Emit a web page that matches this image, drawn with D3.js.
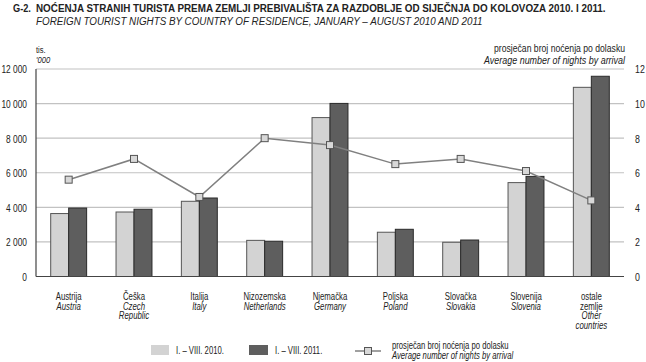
<!DOCTYPE html>
<html><head><meta charset="utf-8">
<script src="https://cdn.jsdelivr.net/npm/d3@7/dist/d3.min.js"></script>
<style>
body{margin:0;background:#fff;}
svg{display:block;}
text{font-family:"Liberation Sans",Arial,sans-serif;fill:#222;}
</style></head>
<body>
<svg id="c" width="646" height="362"></svg>
<script>
const categoriesHr = ["Austrija","Češka","Italija","Nizozemska","Njemačka","Poljska","Slovačka","Slovenija","ostale\nzemlje"];
const categoriesEn = ["Austria","Czech\nRepublic","Italy","Netherlands","Germany","Poland","Slovakia","Slovenia","Other\ncountries"];
const nights2010 = [3640, 3730, 4350, 2090, 9190, 2560, 1980, 5430, 10940];
const nights2011 = [3960, 3890, 4540, 2040, 10010, 2730, 2110, 5790, 11580];
const avgNights = [5.6, 6.8, 4.6, 8.0, 7.6, 6.5, 6.8, 6.1, 4.4];
const leftTicks = [0, 2000, 4000, 6000, 8000, 10000, 12000];
const rightTicks = [0, 2, 4, 6, 8, 10, 12];
const seriesNames = ["I. – VIII. 2010.", "I. – VIII. 2011."];
const lineNameHr = "prosječan broj noćenja po dolasku";
const lineNameEn = "Average number of nights by arrival";

const svg = d3.select("#c");
const m = {l:36, r:624, t:69, b:276.5};
const idx = d3.range(categoriesHr.length);
const x = d3.scaleBand().domain(idx).range([m.l, m.r]).paddingInner(0.45).paddingOuter(0.225);
const xc = d3.scaleBand().domain(idx).range([m.l, m.r]);
const y = d3.scaleLinear().domain([0, 12000]).range([m.b, m.t]);
const y2 = d3.scaleLinear().domain([0, 12]).range([m.b, m.t]);
const fmt = d => d3.format(",")(d).replace(/,/g, " ");

// horizontally condense a text around its anchor using a transform
function squeeze(node, f){
  const x0 = +node.getAttribute("x") || 0, y0 = +node.getAttribute("y") || 0;
  node.setAttribute("x", 0); node.setAttribute("y", 0);
  node.setAttribute("transform", `translate(${x0},${y0}) scale(${f.toFixed(4)},1)`);
}
function condense(sel, f){ sel.each(function(){ squeeze(this, f); }); return sel; }
function fitTo(sel, w){ sel.each(function(){ squeeze(this, w/this.getComputedTextLength()); }); return sel; }

// title
condense(svg.append("text").attr("x",13).attr("y",12).attr("font-size",11.5).attr("font-weight","bold").text("G-2."),0.8);
fitTo(svg.append("text").attr("x",36).attr("y",12).attr("font-size",11.5).attr("font-weight","bold")
  .text("NOĆENJA STRANIH TURISTA PREMA ZEMLJI PREBIVALIŠTA ZA RAZDOBLJE OD SIJEČNJA DO KOLOVOZA 2010. I 2011."),570);
fitTo(svg.append("text").attr("x",36).attr("y",24.5).attr("font-size",11.5).attr("font-style","italic")
  .text("FOREIGN TOURIST NIGHTS BY COUNTRY OF RESIDENCE, JANUARY – AUGUST 2010 AND 2011"),447);

// units
condense(svg.append("text").attr("x",36).attr("y",52.5).attr("font-size",9.5).text("tis."),0.8);
condense(svg.append("text").attr("x",36).attr("y",62.5).attr("font-size",9.5).attr("font-style","italic").text("'000"),0.8);
fitTo(svg.append("text").attr("x",625).attr("y",52).attr("font-size",10.5).attr("text-anchor","end").text(lineNameHr),131);
fitTo(svg.append("text").attr("x",625).attr("y",64).attr("font-size",10.5).attr("text-anchor","end").attr("font-style","italic").text(lineNameEn),141);

// grid
svg.append("g").selectAll("line").data(leftTicks.filter(d=>d>0)).join("line")
  .attr("x1",m.l).attr("x2",m.r).attr("y1",d=>y(d)).attr("y2",d=>y(d))
  .attr("stroke","#c2c2c2").attr("stroke-width",1.2);

// axes
const la = svg.append("g").attr("transform",`translate(${m.l},0)`)
  .call(d3.axisLeft(y).tickValues(leftTicks).tickFormat(fmt).tickSize(0).tickPadding(9));
la.select(".domain").remove();
la.selectAll("text").attr("font-size",11).attr("dy",null).attr("dominant-baseline","central");
condense(la.selectAll("text"),0.76);
const ra = svg.append("g").attr("transform",`translate(${m.r},0)`)
  .call(d3.axisRight(y2).tickValues(rightTicks).tickSize(0).tickPadding(11));
ra.select(".domain").remove();
ra.selectAll("text").attr("font-size",11).attr("dy",null).attr("dominant-baseline","central");
condense(ra.selectAll("text"),0.8);

// bars
const bw = x.bandwidth()/2;
svg.append("g").selectAll("rect").data(idx).join("rect")
  .attr("x",i=>x(i)).attr("width",bw).attr("y",i=>y(nights2010[i])).attr("height",i=>m.b-y(nights2010[i]))
  .attr("fill","#d3d3d3").attr("stroke","#555").attr("stroke-width",1);
svg.append("g").selectAll("rect").data(idx).join("rect")
  .attr("x",i=>x(i)+bw).attr("width",bw).attr("y",i=>y(nights2011[i])).attr("height",i=>m.b-y(nights2011[i]))
  .attr("fill","#5e5e5e").attr("stroke","#2a2a2a").attr("stroke-width",1);

svg.append("line").attr("x1",m.l).attr("x2",m.l).attr("y1",m.t).attr("y2",m.b).attr("stroke","#444").attr("stroke-width",1.2);
svg.append("line").attr("x1",m.l).attr("x2",m.r).attr("y1",m.b).attr("y2",m.b).attr("stroke","#444").attr("stroke-width",1.2);

// line
const cx = i => xc(i) + xc.bandwidth()/2;
svg.append("path").datum(idx)
  .attr("d", d3.line().x(cx).y(i=>y2(avgNights[i])))
  .attr("fill","none").attr("stroke","#808080").attr("stroke-width",1.5);
svg.append("g").selectAll("rect").data(idx).join("rect")
  .attr("x",i=>cx(i)-3.5).attr("y",i=>y2(avgNights[i])-3.5).attr("width",7).attr("height",7)
  .attr("fill","#d8d8d8").attr("stroke","#555").attr("stroke-width",1);

// category labels
const lab = svg.append("g");
idx.forEach(i=>{
  const lines = categoriesHr[i].split("\n").map(t=>({t,it:false}))
    .concat(categoriesEn[i].split("\n").map(t=>({t,it:true})));
  lines.forEach((l,k)=>{
    lab.append("text").attr("x",cx(i)).attr("y",300+k*9.6).attr("text-anchor","middle")
      .attr("font-size",10).attr("font-style",l.it?"italic":"normal").text(l.t);
  });
});
condense(lab.selectAll("text"),0.78);

// legend
const lg = svg.append("g");
lg.append("rect").attr("x",151).attr("y",345).attr("width",18).attr("height",10).attr("fill","#d3d3d3");
lg.append("text").attr("x",176).attr("y",354).attr("font-size",10).text(seriesNames[0]);
lg.append("rect").attr("x",249).attr("y",345).attr("width",19).attr("height",10).attr("fill","#5e5e5e");
lg.append("text").attr("x",275).attr("y",354).attr("font-size",10).text(seriesNames[1]);
lg.append("line").attr("x1",355).attr("x2",381).attr("y1",351).attr("y2",351).attr("stroke","#808080").attr("stroke-width",1.5);
lg.append("rect").attr("x",364.5).attr("y",347.5).attr("width",7).attr("height",7).attr("fill","#d8d8d8").attr("stroke","#555");
lg.append("text").attr("x",392).attr("y",348.5).attr("font-size",10).text(lineNameHr);
lg.append("text").attr("x",392).attr("y",359).attr("font-size",10).attr("font-style","italic").text(lineNameEn);
condense(lg.selectAll("text"),0.77);
</script>
</body></html>
